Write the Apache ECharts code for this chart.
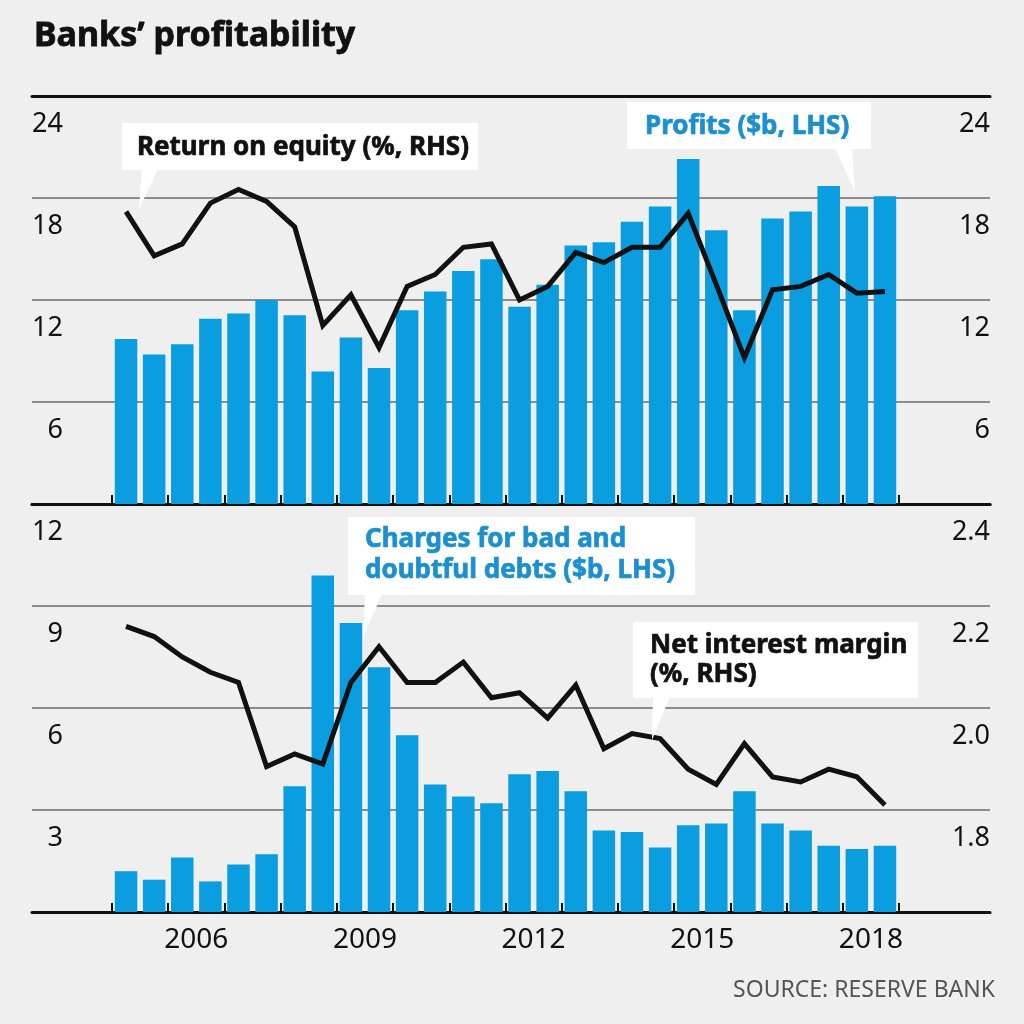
<!DOCTYPE html>
<html>
<head>
<meta charset="utf-8">
<script src="https://cdn.jsdelivr.net/npm/echarts@6/dist/echarts.min.js"></script>
<style>
  html, body { margin: 0; padding: 0; background: #efefef; }
  #chart { width: 1024px; height: 1024px; }
</style>
</head>
<body>
<div id="chart"></div>
<script>
// ---- Data (half-yearly) ----
const halfYears = [
  '2005 H1','2005 H2','2006 H1','2006 H2','2007 H1','2007 H2','2008 H1','2008 H2',
  '2009 H1','2009 H2','2010 H1','2010 H2','2011 H1','2011 H2','2012 H1','2012 H2',
  '2013 H1','2013 H2','2014 H1','2014 H2','2015 H1','2015 H2','2016 H1','2016 H2',
  '2017 H1','2017 H2','2018 H1','2018 H2'
];
// Profits ($b, LHS, top panel)
const profits = [9.7, 8.8, 9.4, 10.9, 11.2, 12.0, 11.1, 7.8, 9.8, 8.0, 11.4, 12.5, 13.7, 14.4,
                 11.6, 12.9, 15.2, 15.4, 16.6, 17.5, 20.3, 16.1, 11.4, 16.8, 17.2, 18.7, 17.5, 18.1];
// Return on equity (%, RHS, top panel)
const roe = [17.2, 14.6, 15.3, 17.7, 18.5, 17.8, 16.3, 10.5, 12.3, 9.2, 12.8, 13.5, 15.1, 15.3,
             12.0, 12.8, 14.8, 14.2, 15.1, 15.1, 17.1, 12.9, 8.6, 12.6, 12.8, 13.5, 12.4, 12.5];
// Charges for bad and doubtful debts ($b, LHS, bottom panel)
const charges = [1.2, 0.95, 1.6, 0.9, 1.4, 1.7, 3.7, 9.9, 8.5, 7.2, 5.2, 3.75, 3.4, 3.2,
                 4.05, 4.15, 3.55, 2.4, 2.35, 1.9, 2.55, 2.6, 3.55, 2.6, 2.4, 1.95, 1.85, 1.95];
// Net interest margin (%, RHS, bottom panel)
const nim = [2.16, 2.14, 2.10, 2.07, 2.05, 1.885, 1.91, 1.89, 2.05, 2.12, 2.05, 2.05, 2.09, 2.02,
             2.03, 1.98, 2.045, 1.92, 1.95, 1.94, 1.88, 1.85, 1.93, 1.865, 1.855, 1.88, 1.865, 1.81];

const yearTicks = [2005, 2006, 2007, 2008, 2009, 2010, 2011, 2012, 2013, 2014, 2015, 2016, 2017, 2018, 2019];
const yearLabels = [2006, 2009, 2012, 2015, 2018];

// ---- Helpers ----
function periodCenter(label) {
  const year = parseInt(label, 10);
  return year + (label.endsWith('H1') ? 0.25 : 0.75);
}
function pairs(values) {
  return values.map((v, i) => [periodCenter(halfYears[i]), v]);
}

// x scale: year 2005 at px 112, 2019 at px 899; grid spans 32..990
const pxPerYear = (899 - 112) / 14;
const X_MIN = 2005 - (112 - 32) / pxPerYear;
const X_MAX = 2019 + (990 - 899) / pxPerYear;

const FONT = '"Noto Sans", "Open Sans", sans-serif';
const BLUE = '#0a9de0';
const TEXT_BLUE = '#1b8fcf';
const INK = '#111111';
const GRID_GRAY = '#8c8c8c';

function xAxisBase(gridIndex, position, showTicks, showLabels) {
  return {
    type: 'value', gridIndex, position, min: X_MIN, max: X_MAX,
    axisLine: { show: true, onZero: false, lineStyle: { color: INK, width: 3 } },
    axisTick: showTicks ? {
      show: true, inside: true, length: 9, customValues: yearTicks,
      lineStyle: { color: INK, width: 2 }
    } : { show: false },
    axisLabel: showLabels ? {
      show: true, customValues: yearLabels.map(y => y + 0.5),
      formatter: v => String(Math.floor(v)),
      margin: 14, fontSize: 28, lineHeight: 28, color: INK, fontFamily: FONT,
      verticalAlign: 'top'
    } : { show: false },
    splitLine: { show: false }
  };
}

function yAxisBase(gridIndex, position, min, max, interval, withSplit, fmt) {
  const left = position === 'left';
  return {
    type: 'value', gridIndex, position, min, max, interval,
    axisLine: { show: false }, axisTick: { show: false },
    axisLabel: {
      inside: true, align: 'right', margin: left ? 31 : 0,
      verticalAlign: 'top', padding: [15, 0, 0, 0], lineHeight: 27,
      fontSize: 27, color: INK, fontFamily: FONT, showMinLabel: false,
      formatter: fmt || (v => String(v))
    },
    splitLine: withSplit ? {
      show: true, showMinLine: false, showMaxLine: false,
      lineStyle: { color: GRID_GRAY, width: 2 }
    } : { show: false }
  };
}

function callout(box, pointer, textX, textY, text, color, lineHeight) {
  return [
    { type: 'polygon', z: 100, shape: { points: pointer }, style: { fill: '#ffffff' } },
    { type: 'rect', z: 100, shape: box, style: { fill: '#ffffff' } },
    { type: 'text', z: 101, x: textX, y: textY,
      style: { text, fill: color, stroke: color, lineWidth: 0.7,
               font: 'bold 26px ' + FONT, verticalAlign: 'top',
               lineHeight: lineHeight || 30 } }
  ];
}

const option = {
  backgroundColor: '#efefef',
  animation: false,
  grid: [
    { left: 32, right: 34, top: 96, height: 408, outerBoundsMode: 'none' },
    { left: 32, right: 34, top: 504, height: 408, outerBoundsMode: 'none' }
  ],
  xAxis: [
    xAxisBase(0, 'bottom', true, false),
    xAxisBase(0, 'top', false, false),
    xAxisBase(1, 'bottom', true, true),
    xAxisBase(1, 'top', false, false)
  ],
  yAxis: [
    yAxisBase(0, 'left', 0, 24, 6, true),
    yAxisBase(0, 'right', 0, 24, 6, false),
    yAxisBase(1, 'left', 0, 12, 3, true),
    yAxisBase(1, 'right', 1.6, 2.4, 0.2, false, v => v.toFixed(1))
  ],
  series: [
    { name: 'Profits ($b, LHS)', type: 'bar', xAxisIndex: 0, yAxisIndex: 0,
      data: pairs(profits), barWidth: 22.5, itemStyle: { color: BLUE }, z: 3 },
    { name: 'Return on equity (%, RHS)', type: 'line', xAxisIndex: 0, yAxisIndex: 1,
      data: pairs(roe), symbol: 'none', z: 5,
      lineStyle: { color: INK, width: 5, join: 'miter' } },
    { name: 'Charges for bad and doubtful debts ($b, LHS)', type: 'bar', xAxisIndex: 2, yAxisIndex: 2,
      data: pairs(charges), barWidth: 22.5, itemStyle: { color: BLUE }, z: 3 },
    { name: 'Net interest margin (%, RHS)', type: 'line', xAxisIndex: 2, yAxisIndex: 3,
      data: pairs(nim), symbol: 'none', z: 5,
      lineStyle: { color: INK, width: 5, join: 'miter' } }
  ],
  graphic: [
    { type: 'text', z: 101, x: 34, y: 19,
      style: { text: 'Banks’ profitability', fill: INK, stroke: INK, lineWidth: 0.8,
               font: 'bold 34px ' + FONT, verticalAlign: 'top' } },
    ...callout({ x: 122, y: 123, width: 356, height: 47 }, [[142, 169], [158, 169], [139, 209]],
               137, 133, 'Return on equity (%, RHS)', INK),
    ...callout({ x: 627, y: 102, width: 244, height: 47 }, [[835, 148], [852, 148], [855, 192]],
               645, 112, 'Profits ($b, LHS)', TEXT_BLUE),
    ...callout({ x: 348, y: 517, width: 347, height: 78 }, [[365, 594], [382, 594], [363, 638]],
               365, 524, 'Charges for bad and\ndoubtful debts ($b, LHS)', TEXT_BLUE, 31),
    ...callout({ x: 633, y: 622, width: 285, height: 76 }, [[653, 697], [670, 697], [652, 740]],
               650, 631, 'Net interest margin\n(%, RHS)', INK, 29),
    { type: 'text', z: 101, x: 995, y: 979,
      style: { text: 'SOURCE: RESERVE BANK', fill: '#555555', font: '23px ' + FONT,
               align: 'right', verticalAlign: 'top' } }
  ]
};

const chart = echarts.init(document.getElementById('chart'), null, { renderer: 'canvas' });
chart.setOption(option);
</script>
</body>
</html>
